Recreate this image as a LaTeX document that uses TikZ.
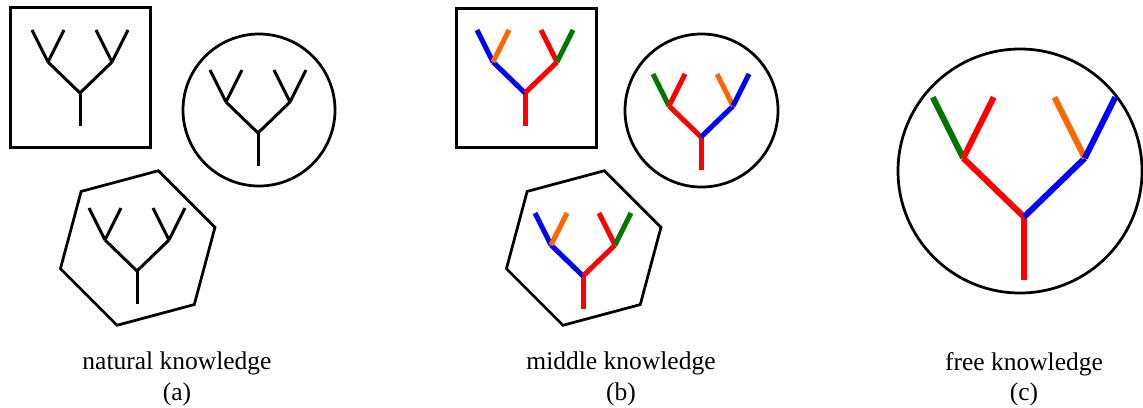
\documentclass[tikz,border=0pt]{standalone}
\usepackage{fontspec}
\setmainfont{Liberation Serif}
\usepackage{tikz}

\definecolor{korange}{RGB}{255,102,0}
\definecolor{kgreen}{RGB}{0,120,0}

% #1 scope options, #2 trunk, #3 left branch, #4 left-left leaf, #5 left-right leaf,
% #6 right branch, #7 right-left leaf, #8 right-right leaf
\newcommand{\ktree}[8]{
    \begin{scope}[#1]
        \draw[#2] (0,0) -- (0,33);
        \draw[#3] (0,0) -- (-32,-31);
        \draw[#4] (-32,-31) -- (-48,-63);
        \draw[#5] (-32,-31) -- (-16,-63);
        \draw[#6] (0,0) -- (32,-31);
        \draw[#7] (32,-31) -- (16,-63);
        \draw[#8] (32,-31) -- (48,-63);
    \end{scope}
}

\begin{document}
\begin{tikzpicture}[x=0.4pt, y=-0.4pt, line width=1.1pt,
    bw/.style={black, line width=1.2pt},
    col/.style={line width=2pt},
    big/.style={line width=2.4pt},
    caption/.style={align=center, font=\fontsize{10.2}{12.2}\selectfont}]
    \useasboundingbox (0,0) rectangle (1143,407);

    % (a) natural knowledge
    \draw[line width=1.2pt] (10,7) rectangle (150,147);
    \ktree{shift={(80,93)}, bw}{}{}{}{}{}{}{}
    \draw (259,110) circle [radius=76];
    \ktree{shift={(258,133)}, bw}{}{}{}{}{}{}{}
    \draw[shift={(137.7,248)}] (-75:80) -- (-15:80) -- (45:80) -- (105:80) -- (165:80) -- (225:80) -- cycle;
    \ktree{shift={(137,271)}, bw}{}{}{}{}{}{}{}

    % (b) middle knowledge
    \draw[line width=1.2pt] (456,8) rectangle (596,147);
    \ktree{shift={(525,93)}, col}{red}{blue}{blue}{korange}{red}{red}{kgreen}
    \draw (701.5,110.5) circle [radius=76.5];
    \ktree{shift={(701,137)}, col}{red}{red}{kgreen}{red}{blue}{korange}{blue}
    \draw[shift={(583.7,248)}] (-75:80) -- (-15:80) -- (45:80) -- (105:80) -- (165:80) -- (225:80) -- cycle;
    \ktree{shift={(583,276)}, col}{red}{blue}{blue}{korange}{red}{red}{kgreen}

    % (c) free knowledge
    \draw (1020,171) circle [radius=122];
    \ktree{shift={(1024,217)}, scale=1.9, big}{red}{red}{kgreen}{red}{blue}{korange}{blue}

    % captions
    \node[caption] (capa) at (177,379) {natural knowledge\\(a)};
    \node[caption] (capb) at (621,379) {middle knowledge\\(b)};
    \node[caption] (capc) at (1024,379) {free knowledge\\(c)};
\end{tikzpicture}
\end{document}
